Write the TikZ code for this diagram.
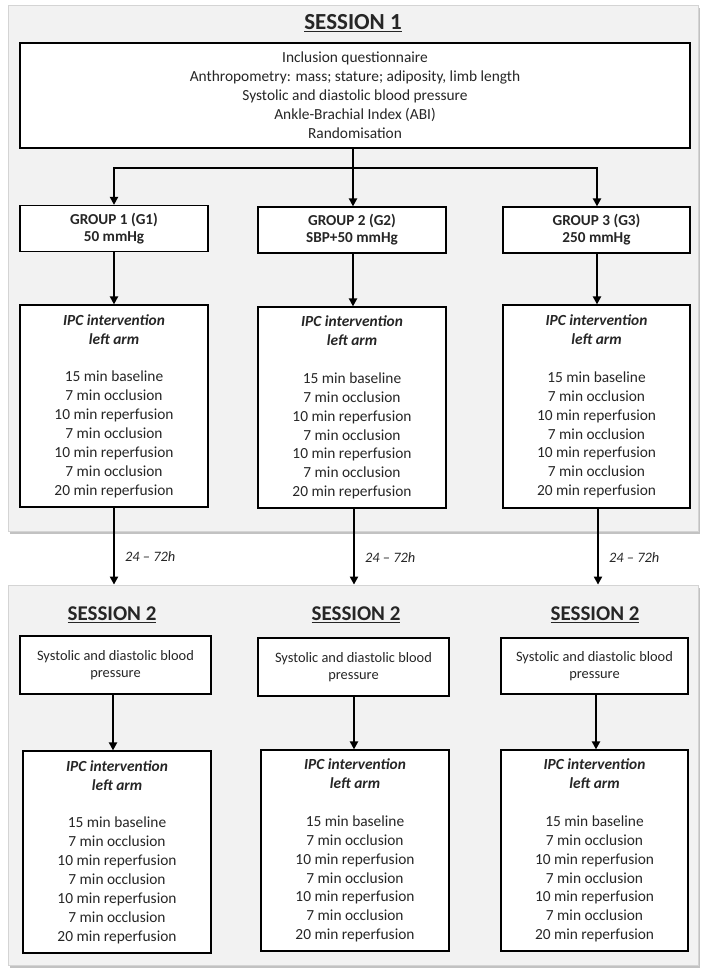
\documentclass[tikz,border=0pt]{standalone}
\usepackage{fontspec}
\setmainfont{Carlito}
\usetikzlibrary{arrows.meta,shadows}
\definecolor{panelgray}{HTML}{F2F2F2}
\definecolor{panelline}{HTML}{D4D4D4}
\definecolor{txt}{HTML}{262626}
\begin{document}
\begin{tikzpicture}[x=1pt,y=-1pt,
  panel/.style={draw=panelline, line width=0.8pt, fill=panelgray, inner sep=0pt,
    drop shadow={shadow xshift=2pt, shadow yshift=-3pt, fill=black!40, opacity=0.6}},
  box/.style={draw=black, line width=1.2pt, fill=white, align=center, inner sep=0pt, text=txt},
  mainbox/.style={box, font=\fontsize{15.4}{19}\selectfont},
  groupbox/.style={box, font=\fontsize{15.2}{17}\selectfont\bfseries, minimum height=46pt},
  ipcbox/.style={box, font=\fontsize{15.4}{18.9}\selectfont},
  bpbox/.style={box, font=\fontsize{14.4}{17}\selectfont},
  title/.style={font=\fontsize{23}{26}\selectfont\bfseries, inner sep=0pt, text=txt},
  title2/.style={font=\fontsize{21}{24}\selectfont\bfseries, inner sep=0pt, text=txt},
  line/.style={line width=2.2pt},
  arr/.style={line, -{Triangle[length=8pt,width=8pt]}},
  lbl/.style={font=\fontsize{14.4}{17}\selectfont\itshape, right, inner sep=0pt, xshift=10pt, text=txt}
]
\useasboundingbox (0,0) rectangle (706,976);

% panels
\node[panel, minimum width=690pt, minimum height=526pt] (panel1) at (353,268) {};
\node[panel, minimum width=690pt, minimum height=380pt] (panel2) at (353,775) {};

% session 1
\node[title] (s1) at (353,23) {\underline{SESSION 1}};
\node[mainbox, minimum width=670pt, minimum height=105pt] (top) at (355,95.5)
  {Inclusion questionnaire\\Anthropometry: mass; stature; adiposity, limb length\\Systolic and diastolic blood pressure\\Ankle-Brachial Index (ABI)\\Randomisation};

\node[groupbox, minimum width=188pt] (g1) at (114,228.5) {GROUP 1 (G1)\\50 mmHg};
\node[groupbox, minimum width=188pt] (g2) at (352,230) {GROUP 2 (G2)\\SBP+50 mmHg};
\node[groupbox, minimum width=187pt] (g3) at (596.5,230) {GROUP 3 (G3)\\250 mmHg};

\newcommand{\ipctext}{\textbf{\textit{IPC intervention}}\\\textbf{\textit{left arm}}\\[18.9pt]15 min baseline\\7 min occlusion\\10 min reperfusion\\7 min occlusion\\10 min reperfusion\\7 min occlusion\\20 min reperfusion}

\node[ipcbox, minimum width=188pt, minimum height=202pt] (pa) at (114,406) {\ipctext};
\node[ipcbox, minimum width=188pt, minimum height=201pt] (pb) at (352,407.5) {\ipctext};
\node[ipcbox, minimum width=187pt, minimum height=203pt] (pc) at (596.5,406.5) {\ipctext};

% branch
\coordinate (br) at (353,168);
\coordinate (bl) at (114,168);
\coordinate (brr) at (597,168);
\draw[line] (top.south -| br) -- (br);
\draw[line, line cap=rect] (bl) -- (brr);
\draw[arr] (bl) -- (bl |- g1.north);
\draw[arr] (br) -- (br |- g2.north);
\draw[arr] (brr) -- (brr |- g3.north);

\draw[arr] (g1.south -| bl) -- (bl |- pa.north);
\draw[arr] (g2.south -| br) -- (br |- pb.north);
\draw[arr] (g3.south -| brr) -- (brr |- pc.north);

% session 2
\node[title2] (s2a) at (112,615) {\underline{SESSION 2}};
\node[title2] (s2b) at (356,615) {\underline{SESSION 2}};
\node[title2] (s2c) at (595,615) {\underline{SESSION 2}};

\node[bpbox, minimum width=191pt, minimum height=58pt] (bpa) at (115.5,665) {Systolic and diastolic blood\\pressure};
\node[bpbox, minimum width=191pt, minimum height=58pt] (bpb) at (353.5,667) {Systolic and diastolic blood\\pressure};
\node[bpbox, minimum width=187pt, minimum height=56pt] (bpc) at (594.5,666) {Systolic and diastolic blood\\pressure};

\node[ipcbox, minimum width=188pt, minimum height=202pt] (qa) at (117,852) {\ipctext};
\node[ipcbox, minimum width=188pt, minimum height=201pt] (qb) at (355,850.5) {\ipctext};
\node[ipcbox, minimum width=187pt, minimum height=201pt] (qc) at (594.5,850.5) {\ipctext};

% between sessions
\coordinate (xa) at (114,0);
\coordinate (xb) at (354,0);
\coordinate (xc) at (598,0);
\draw[arr] (pa.south -| xa) -- node[lbl, pos=0.64] {24 -- 72h} (xa |- panel2.north);
\draw[arr] (pb.south -| xb) -- node[lbl, pos=0.64] {24 -- 72h} (xb |- panel2.north);
\draw[arr] (pc.south -| xc) -- node[lbl, pos=0.64] {24 -- 72h} (xc |- panel2.north);

% session 2 arrows
\coordinate (ya) at (113,0);
\coordinate (yb) at (354,0);
\coordinate (yc) at (596,0);
\draw[arr] (bpa.south -| ya) -- (ya |- qa.north);
\draw[arr] (bpb.south -| yb) -- (yb |- qb.north);
\draw[arr] (bpc.south -| yc) -- (yc |- qc.north);
\end{tikzpicture}
\end{document}
